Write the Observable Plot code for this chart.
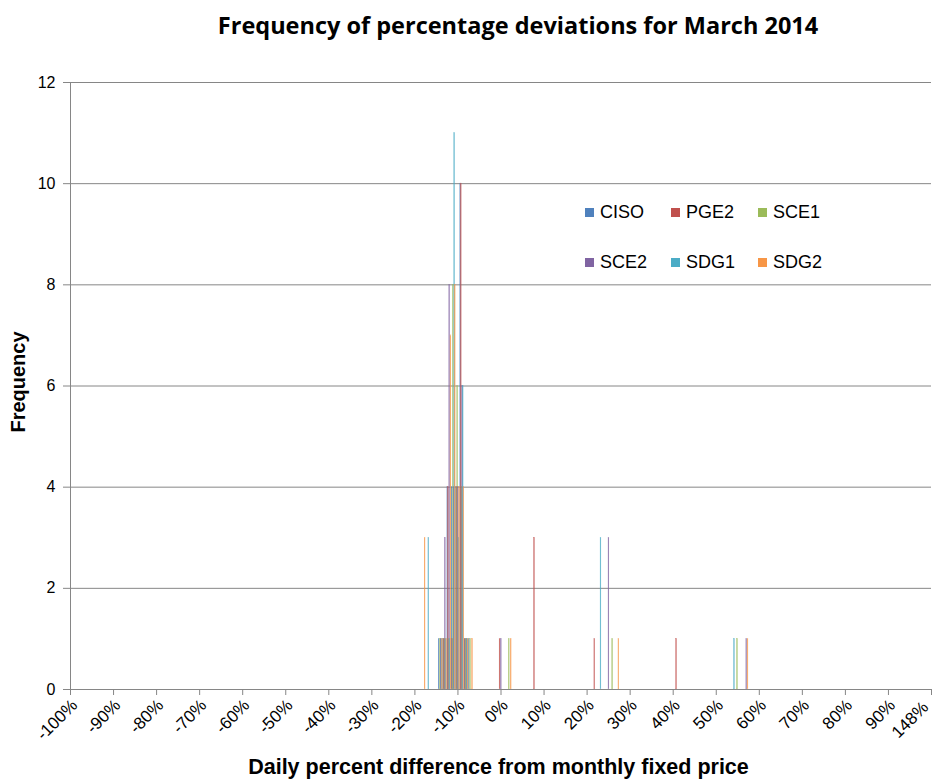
<!DOCTYPE html>
<html>
<head>
<meta charset="utf-8">
<script src="https://cdn.jsdelivr.net/npm/d3@7"></script>
<script src="https://cdn.jsdelivr.net/npm/@observablehq/plot@0.6"></script>
<style>
  html, body { margin: 0; padding: 0; background: #fff; }
  #wrap { position: relative; width: 932px; height: 782px; overflow: hidden; }
  #chart { position: absolute; left: 0; top: 0; }
  .title { position: absolute; left: 0; width: 1036px; top: 9px; text-align: center;
           font-family: "Open Sans", sans-serif; font-weight: 700; font-size: 23.5px; color: #000; }
  .xtitle { position: absolute; left: 70px; width: 857px; top: 755px; text-align: center;
            font-family: "Liberation Sans", Arial, sans-serif; font-weight: 700; font-size: 21.5px; }
  .ytitle { position: absolute; left: 18px; top: 382px; transform: translate(-50%, -50%) rotate(-90deg);
            font-family: "Liberation Sans", Arial, sans-serif; font-weight: 700; font-size: 20px; white-space: nowrap; }
  .legend { position: absolute; font-family: "Liberation Sans", Arial, sans-serif; font-size: 18px; color: #000; }
  .legend .item { position: absolute; white-space: nowrap; line-height: 20px; }
  .legend .sw { display: inline-block; width: 9px; height: 9px; margin-right: 6px; vertical-align: 1px; }
</style>
</head>
<body>
<div id="wrap">
  <div id="chart"></div>
  <div class="title">Frequency of percentage deviations for March 2014</div>
  <div class="ytitle">Frequency</div>
  <div class="xtitle">Daily percent difference from monthly fixed price</div>
  <div class="legend" id="legend"></div>
</div>
<script>
// Bin categories (percent difference)
const bins = [-18, -17, -14, -13, -12, -11, -10, -9, -8, -7, 0, 2, 8, 22, 23, 25, 26, 27, 41, 54, 55, 57];
// Frequencies per series, aligned with bins
const CISO = [0, 0, 1, 1, 4, 4, 4, 10, 1, 1, 0, 0, 0, 0, 0, 0, 0, 0, 0, 0, 0, 0];
const PGE2 = [0, 0, 0, 1, 4, 1, 4, 10, 1, 0, 1, 0, 3, 1, 0, 0, 0, 0, 1, 0, 0, 0];
const SCE1 = [0, 0, 1, 1, 1, 8, 6, 4, 1, 1, 0, 1, 0, 0, 0, 0, 1, 0, 0, 0, 1, 0];
const SCE2 = [0, 0, 1, 3, 8, 4, 4, 6, 1, 0, 1, 0, 0, 0, 0, 3, 0, 0, 0, 0, 0, 1];
const SDG1 = [0, 3, 1, 1, 1, 11, 3, 6, 1, 0, 0, 0, 0, 0, 3, 0, 0, 0, 0, 1, 0, 0];
const SDG2 = [3, 0, 1, 1, 7, 8, 4, 4, 1, 1, 0, 1, 0, 0, 0, 0, 0, 1, 0, 0, 0, 1];

const seriesNames = ["CISO", "PGE2", "SCE1", "SCE2", "SDG1", "SDG2"];
const seriesValues = [CISO, PGE2, SCE1, SCE2, SDG1, SDG2];
const seriesColors = ["#4F81BD", "#C0504D", "#9BBB59", "#8064A2", "#4BACC6", "#F79646"];

// x tick labels (category axis: the last shown category is 148%)
const xTicks = [-100, -90, -80, -70, -60, -50, -40, -30, -20, -10, 0, 10, 20, 30, 40, 50, 60, 70, 80, 90, 100];
const xTickLabels = ["-100%", "-90%", "-80%", "-70%", "-60%", "-50%", "-40%", "-30%", "-20%", "-10%", "0%",
  "10%", "20%", "30%", "40%", "50%", "60%", "70%", "80%", "90%", "148%"];
const yTicks = [0, 2, 4, 6, 8, 10, 12];

// Build a tidy table for the library
const rows = [];
seriesNames.forEach((s, k) => {
  seriesValues[k].forEach((v, i) => {
    if (v > 0) rows.push({bin: bins[i], series: s, k, count: v});
  });
});
const nS = seriesNames.length;
const groupW = 0.9;          // fraction of a category occupied by the group
const barW = groupW / nS;
const fmtX = v => xTickLabels[xTicks.indexOf(v)];
const lastTick = xTicks[xTicks.length - 1];

const gray = "#868686";
const chart = Plot.plot({
  width: 932,
  height: 782,
  marginLeft: 70,
  marginRight: 1,
  marginTop: 82,
  marginBottom: 93,
  style: {fontFamily: "'Liberation Sans', Arial, sans-serif", fontSize: "15px", color: "#000", background: "#fff"},
  x: {domain: [-100, 100]},
  y: {domain: [0, 12]},
  color: {domain: seriesNames, range: seriesColors},
  marks: [
    Plot.gridY(yTicks, {stroke: gray, strokeOpacity: 1}),
    Plot.rect(rows, {
      x1: d => d.bin - groupW / 2 + d.k * barW,
      x2: d => d.bin - groupW / 2 + (d.k + 1) * barW,
      y1: 0,
      y2: "count",
      fill: "series",
      stroke: "series",
      strokeWidth: 0.5,
      fillOpacity: 0.85,
      strokeOpacity: 0.7
    }),
    Plot.ruleY([0], {stroke: gray}),
    Plot.ruleX([-100], {stroke: gray}),
    Plot.axisY(yTicks, {tickSize: 7, tickPadding: 8, stroke: gray, label: null, fontSize: 16,
      tickFormat: d => String(d)}),
    // tick marks only
    Plot.axisX(xTicks, {tickSize: 6, stroke: gray, label: null, tickFormat: () => ""}),
    // rotated tick labels, nudged right of the tick like the reference
    Plot.axisX(xTicks.slice(0, -1), {
      tickSize: 0, tickPadding: 13, label: null, tickRotate: -45, fontSize: 17,
      dx: 4, tickFormat: fmtX
    }),
    // last label kept inside the right edge
    Plot.axisX([lastTick], {
      tickSize: 0, tickPadding: 15, label: null, tickRotate: -45, fontSize: 17,
      dx: -6, tickFormat: fmtX
    })
  ]
});
document.getElementById("chart").appendChild(chart);

// Legend (inside the plot area, two rows of three)
const legend = document.getElementById("legend");
const legendPos = [[585, 202], [671, 202], [758, 202], [585, 252], [671, 252], [758, 252]];
seriesNames.forEach((s, k) => {
  const it = document.createElement("div");
  it.className = "item";
  it.style.left = legendPos[k][0] + "px";
  it.style.top = legendPos[k][1] + "px";
  it.innerHTML = `<span class="sw" style="background:${seriesColors[k]}"></span>${s}`;
  legend.appendChild(it);
});
</script>
</body>
</html>
